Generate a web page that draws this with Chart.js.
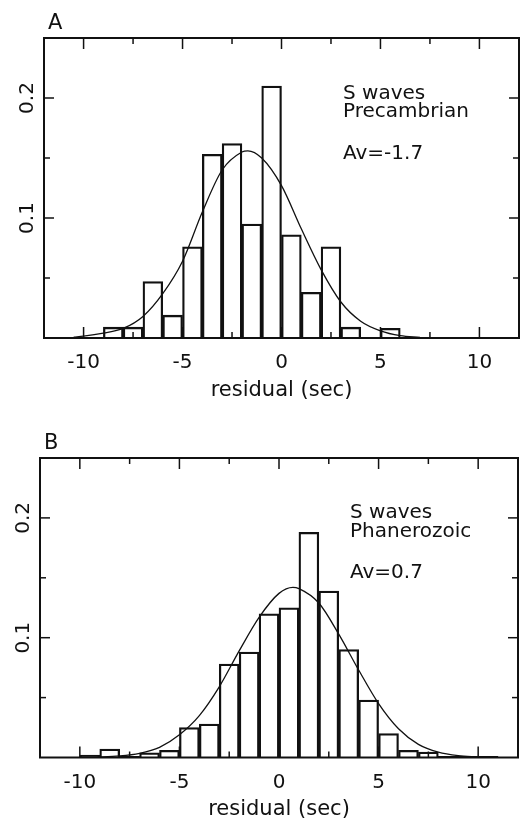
<!DOCTYPE html>
<html><head><meta charset="utf-8">
<script src="https://cdn.jsdelivr.net/npm/chart.js@4.4.1/dist/chart.umd.min.js"></script>
<style>
html,body{margin:0;padding:0;background:#fff;overflow:hidden;width:520px;height:821px}
.panel{position:absolute;left:0;width:520px}
#pa{top:0;height:410px}
#pb{top:400px;height:430px}
canvas{display:block}
</style></head><body>
<div class="panel" id="pa"><canvas id="ca" width="520" height="410"></canvas></div>
<div class="panel" id="pb"><canvas id="cb" width="520" height="430"></canvas></div>
<script>
// ---- Panel A: S waves, Precambrian ----
const binStartsA = [-9, -8, -7, -6, -5, -4, -3, -2, -1, 0, 1, 2, 3, 5];
const freqA      = [0.009, 0.009, 0.047, 0.019, 0.076, 0.153, 0.162, 0.095, 0.210, 0.086, 0.038, 0.076, 0.009, 0.008];
const fitXA = [-10.5, -10, -9, -8, -7, -6, -5, -4, -3, -2, -1.7, -1, 0, 1, 2, 3, 4, 5, 6, 7];
const fitYA = [0.0008, 0.0015, 0.004, 0.008, 0.018, 0.037, 0.064, 0.105, 0.140, 0.155, 0.156, 0.150, 0.127, 0.091, 0.057, 0.030, 0.014, 0.006, 0.002, 0.0006];
const textA = ["S waves", "Precambrian", "Av=-1.7"];

// ---- Panel B: S waves, Phanerozoic ----
const binStartsB = [-10, -9, -8, -7, -6, -5, -4, -3, -2, -1, 0, 1, 2, 3, 4, 5, 6, 7, 8, 9, 10];
const freqB      = [0.002, 0.007, 0.001, 0.004, 0.006, 0.025, 0.028, 0.078, 0.088, 0.120, 0.125, 0.188, 0.139, 0.090, 0.048, 0.020, 0.006, 0.0045, 0.001, 0.001, 0.001];
const fitXB = [-10, -9, -8, -7, -6, -5, -4, -3, -2, -1, 0, 0.7, 1, 2, 3, 4, 5, 6, 7, 8, 9, 10];
const fitYB = [0.0002, 0.0005, 0.0013, 0.0035, 0.0085, 0.019, 0.035, 0.059, 0.089, 0.117, 0.137, 0.142, 0.141, 0.129, 0.103, 0.073, 0.045, 0.024, 0.011, 0.0045, 0.0016, 0.0005];
const textB = ["S waves", "Phanerozoic", "Av=0.7"];

// ---- Axes ----
const xTickValues = [-10, -7.5, -5, -2.5, 0, 2.5, 5, 7.5, 10];
const xTickLabels = [-10, -5, 0, 5, 10];
const yTickValues = [0.05, 0.1, 0.15, 0.2];
const yTickLabels = [0.1, 0.2];
const xTitle = "residual (sec)";

const INK = '#111';
const FONT = '"DejaVu Sans", sans-serif';

function near(a, b) { return Math.abs(a - b) < 1e-9; }

const framePlugin = {
  id: 'frame',
  afterDraw(chart, args, opts) {
    const {ctx, chartArea: {left, right, top, bottom}, scales: {x, y}} = chart;
    ctx.save();
    ctx.strokeStyle = INK;
    ctx.lineWidth = 2;
    ctx.strokeRect(left, top, right - left, bottom - top);
    ctx.lineWidth = 1.5;
    const seg = (x1, y1, x2, y2) => { ctx.beginPath(); ctx.moveTo(x1, y1); ctx.lineTo(x2, y2); ctx.stroke(); };
    x.ticks.forEach(t => {
      const v = t.value;
      const px = x.getPixelForValue(v);
      const major = xTickLabels.some(l => near(l, v));
      const L = major ? 11 : 6;
      seg(px, bottom, px, bottom - L);
      seg(px, top, px, top + L);
    });
    y.ticks.forEach(t => {
      const v = t.value;
      const py = y.getPixelForValue(v);
      const major = yTickLabels.some(l => near(l, v));
      const L = major ? 10 : 6;
      seg(left, py, left + L, py);
      seg(right, py, right - L, py);
    });
    // rotated y tick labels
    ctx.fillStyle = INK;
    ctx.font = '20px ' + FONT;
    yTickLabels.forEach(l => {
      const py = y.getPixelForValue(l);
      ctx.save();
      ctx.translate(left - 11, py);
      ctx.rotate(-Math.PI / 2);
      ctx.textAlign = 'center';
      ctx.textBaseline = 'alphabetic';
      ctx.fillText(String(l), 0, 0);
      ctx.restore();
    });
    // panel letter
    ctx.textAlign = 'left';
    ctx.textBaseline = 'alphabetic';
    ctx.font = '21px ' + FONT;
    ctx.fillText(opts.letter, opts.letterX, opts.letterY);
    // annotation
    ctx.font = '20px ' + FONT;
    opts.lines.forEach((s, i) => ctx.fillText(s, opts.textX, opts.textY[i]));
    ctx.restore();
  }
};

function makeChart(id, starts, freq, fx, fy, pad, plugOpts) {
  const bars = starts.map((s, i) => ({x: s + 0.5, y: freq[i]}));
  const fit = fx.map((v, i) => ({x: v, y: fy[i]}));
  return new Chart(document.getElementById(id), {
    type: 'bar',
    data: {
      datasets: [
        {
          type: 'line', data: fit, borderColor: INK, borderWidth: 1.3,
          pointRadius: 0, fill: false, cubicInterpolationMode: 'monotone', order: 0
        },
        {
          type: 'bar', data: bars, backgroundColor: 'rgba(255,255,255,0)',
          borderColor: INK, borderWidth: 1.6, barPercentage: 1, categoryPercentage: 1,
          order: 1
        }
      ]
    },
    options: {
      responsive: false, animation: false, devicePixelRatio: 1,
      layout: {padding: pad},
      plugins: {legend: {display: false}, tooltip: {enabled: false}, frame: plugOpts},
      scales: {
        x: {
          type: 'linear', min: -12, max: 12, offset: false,
          grid: {display: false, drawTicks: false}, border: {display: false},
          afterBuildTicks: s => { s.ticks = xTickValues.map(v => ({value: v})); },
          ticks: {
            autoSkip: false, maxRotation: 0, minRotation: 0,
            padding: 13, color: INK, font: {family: FONT, size: 20},
            callback: v => xTickLabels.some(l => near(l, v)) ? String(v) : ''
          },
          title: {display: true, text: xTitle, color: INK, font: {family: FONT, size: 21}, padding: {top: 0, bottom: 7}},
          afterFit: s => { s.height = 72; s.paddingLeft = 0; s.paddingRight = 0; }
        },
        y: {
          min: 0, max: 0.25,
          grid: {display: false, drawTicks: false}, border: {display: false},
          afterBuildTicks: s => { s.ticks = yTickValues.map(v => ({value: v})); },
          ticks: {display: false},
          afterFit: s => { s.width = 0; s.paddingTop = 0; s.paddingBottom = 0; }
        }
      }
    },
    plugins: [framePlugin]
  });
}

makeChart('ca', binStartsA, freqA, fitXA, fitYA,
  {top: 38, bottom: 0, left: 44, right: 1},
  {letter: 'A', letterX: 48, letterY: 29, lines: textA, textX: 343, textY: [99, 117, 159]});
makeChart('cb', binStartsB, freqB, fitXB, fitYB,
  {top: 58, bottom: 0.5, left: 40, right: 2},
  {letter: 'B', letterX: 44, letterY: 49, lines: textB, textX: 350, textY: [118, 137, 178]});
</script>
</body></html>
